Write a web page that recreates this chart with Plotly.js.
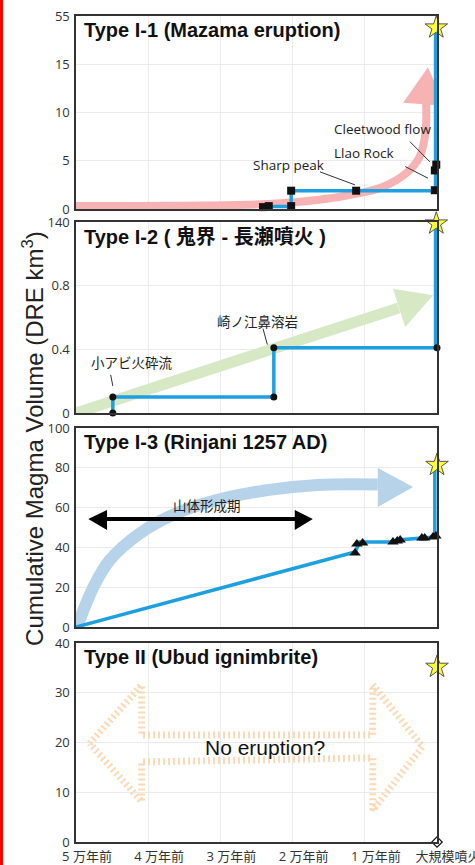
<!DOCTYPE html>
<html><head><meta charset="utf-8">
<script src="https://cdn.plot.ly/plotly-3.0.1.min.js"></script>
<style>html,body{margin:0;padding:0;background:#fff;} #chart{width:475px;height:865px;}</style>
</head><body><div id="chart"></div>
<script>
// ---- shared x axis (thousand years before the large eruption) ----
const xTickVals = [-50, -40, -30, -20, -10, 0];
const xTickText = ['5 万年前', '4 万年前', '3 万年前', '2 万年前', '1 万年前', '大規模噴火'];
const panelTitles = ['Type I-1 (Mazama eruption)', 'Type I-2 ( 鬼界 - 長瀬噴火 )', 'Type I-3 (Rinjani 1257 AD)', 'Type II (Ubud ignimbrite)'];
const yAxisTitle = 'Cumulative Magma Volume (DRE km<sup>3</sup>)';

// ---- Panel 1: Mazama ----
const p1TickVals = [0, 5, 10, 15, 20];
const p1TickText = ['0', '5', '10', '15', '55'];
const p1StepX = [-24.1, -20.2, -20.2, -0.2, -0.2];
const p1StepY = [0.25, 0.25, 1.9, 1.9, 18.8];
const p1EventX = [-24.1, -23.3, -20.2, -20.2, -11.2, -0.3, -0.3, -0.1];
const p1EventY = [0.2, 0.3, 0.3, 1.9, 1.9, 1.95, 4.0, 4.6];
const p1StarX = [-0.1];
const p1StarY = [18.8];
const p1TrendX = [-50, -32.8, -23.5, -16.6, -12.0, -7.5, -4.2, -2.4, -1.6, -1.5];
const p1TrendY = [0.31, 0.36, 0.52, 0.94, 1.46, 2.29, 3.75, 5.42, 7.9, 11.0];
const p1HeadX = [-4.7, -1.25, 1.1];
const p1HeadY = [11.0, 14.7, 10.7];
const p1Labels = ['Cleetwood flow', 'Llao Rock', 'Sharp peak'];
const p1LabelX = [-7.6, -10.1, -20.5];
const p1LabelY = [8.3, 5.83, 4.58];
const p1LeaderX0 = [-3.75, -4.4, -16.2];
const p1LeaderY0 = [6.98, 4.4, 3.85];
const p1LeaderX1 = [-1.0, -1.25, -11.35];
const p1LeaderY1 = [4.9, 3.2, 2.5];

// ---- Panel 2: Kikai ----
const p2TickVals = [0, 0.4, 0.8, 1.2];
const p2TickText = ['0', '0.4', '0.8', '140'];
const p2StepX = [-44.9, -44.9, -22.6, -22.6, -0.2, -0.2];
const p2StepY = [0, 0.1, 0.1, 0.41, 0.41, 1.19];
const p2EventX = [-44.9, -44.9, -22.6, -22.6, 0];
const p2EventY = [0, 0.1, 0.1, 0.41, 0.41];
const p2StarX = [-0.1];
const p2StarY = [1.19];
const p2TrendX = [-50, -5.3];
const p2TrendY = [0, 0.66];
const p2HeadX = [-6.1, -0.55, -4.4];
const p2HeadY = [0.78, 0.74, 0.54];
const p2Labels = ['小アビ火砕流', '崎ノ江鼻溶岩'];
const p2LabelX = [-42.2, -24.9];
const p2LabelY = [0.32, 0.58];
const p2LeaderX0 = [-45.2, -24.1];
const p2LeaderY0 = [0.24, 0.53];
const p2LeaderX1 = [-44.9, -23.5];
const p2LeaderY1 = [0.17, 0.43];

// ---- Panel 3: Rinjani ----
const p3TickVals = [0, 20, 40, 60, 80, 100];
const p3LineX = [-50, -11.35, -10.7, -6.5, -5.5, -1.9, -0.3, -0.3];
const p3LineY = [0, 37.7, 42.7, 42.7, 43.7, 44.7, 45.2, 81.4];
const p3EventX = [-11.35, -11.1, -10.3, -6.1, -5.5, -5.1, -2.1, -1.7, -0.55, -0.15];
const p3EventY = [37.2, 41.7, 42.2, 42.7, 43.2, 43.7, 44.7, 44.7, 45.2, 45.7];
const p3StarX = [0];
const p3StarY = [81.4];
const p3TrendX = [-49.8, -47.6, -45.3, -41.1, -36.0, -30.5, -23.5, -16.6, -8.2];
const p3TrendY = [0.5, 20, 33.7, 47.2, 57.3, 63.8, 68.8, 71.4, 71.6];
const p3HeadX = [-8.2, -3.3, -8.2];
const p3HeadY = [79.9, 70.4, 60.3];
const p3PeriodX = [-46, -19.5];
const p3PeriodY = [54.3, 54.3];
const p3PeriodHeadX = [-48.3, -45.7, -45.7, null, -17.2, -19.7, -19.7];
const p3PeriodHeadY = [54.3, 58.8, 48.7, null, 54.3, 58.8, 48.7];
const p3Label = '山体形成期';
const p3LabelX = -31.9;
const p3LabelY = 61.3;

// ---- Panel 4: Ubud ----
const p4TickVals = [0, 10, 20, 30, 40];
const p4StarX = [0];
const p4StarY = [35.2];
const p4BaseX = [0];
const p4BaseY = [0];
const p4OutlineX = [-48.1, -40.9, -40.9, -8.9, -8.9, -2.0, -8.9, -8.9, -40.9, -40.9, -48.1];
const p4OutlineY = [19.8, 31.6, 21.5, 21.5, 31.6, 19.2, 6.4, 16.9, 16.1, 8.1, 19.8];
const p4Label = 'No eruption?';
const p4LabelX = -23.8;
const p4LabelY = 18.9;

// ---------- styling ----------
const BLUE = '#1e9fe0';
const STAR = {symbol: 'star', size: 17, color: '#ffff2e', line: {color: '#555', width: 1}};
const tickFont = {family: "'Open Sans', 'Noto Sans CJK JP', sans-serif", size: 13, color: '#333'};
const labelFont = {family: "'Open Sans', 'Noto Sans CJK JP', sans-serif", size: 13.5, color: '#222'};
const jpFont = {family: "'Noto Sans CJK JP', sans-serif", size: 13.5, color: '#222'};

const traces = [];
function ax(i) { return i === 1 ? '' : String(i); }
function add(i, t) { t.xaxis = 'x' + ax(i); t.yaxis = 'y' + ax(i); t.showlegend = false; t.hoverinfo = 'skip'; traces.push(t); }

// Panel 1
add(1, {x: p1TrendX, y: p1TrendY, mode: 'lines', line: {color: '#f7b3b3', width: 8, shape: 'spline'}});
add(1, {x: p1HeadX, y: p1HeadY, mode: 'lines', fill: 'toself', fillcolor: '#f7b3b3', line: {width: 0}});
add(1, {x: p1StepX, y: p1StepY, mode: 'lines', line: {color: BLUE, width: 3.5}});
add(1, {x: p1EventX, y: p1EventY, mode: 'markers', marker: {symbol: 'square', size: 8, color: '#111'}, cliponaxis: false});
add(1, {x: p1StarX, y: p1StarY, mode: 'markers', marker: STAR, cliponaxis: false});

// Panel 2
add(2, {x: p2TrendX, y: p2TrendY, mode: 'lines', line: {color: '#d6e8c4', width: 11}});
add(2, {x: p2HeadX, y: p2HeadY, mode: 'lines', fill: 'toself', fillcolor: '#d6e8c4', line: {width: 0}});
add(2, {x: p2StepX, y: p2StepY, mode: 'lines', line: {color: BLUE, width: 3.5}});
add(2, {x: p2EventX, y: p2EventY, mode: 'markers', marker: {symbol: 'circle', size: 7, color: '#111'}, cliponaxis: false});
add(2, {x: p2StarX, y: p2StarY, mode: 'markers', marker: STAR, cliponaxis: false});

// Panel 3
add(3, {x: p3TrendX, y: p3TrendY, mode: 'lines', line: {color: '#b7d3ea', width: 12, shape: 'spline'}});
add(3, {x: p3HeadX, y: p3HeadY, mode: 'lines', fill: 'toself', fillcolor: '#b7d3ea', line: {width: 0}});
add(3, {x: p3PeriodX, y: p3PeriodY, mode: 'lines', line: {color: '#000', width: 4}});
add(3, {x: p3PeriodHeadX, y: p3PeriodHeadY, mode: 'lines', fill: 'toself', fillcolor: '#000', line: {width: 0}});
add(3, {x: p3LineX, y: p3LineY, mode: 'lines', line: {color: BLUE, width: 3.5}});
add(3, {x: p3EventX, y: p3EventY, mode: 'markers', marker: {symbol: 'triangle-up', size: 10, color: '#111'}, cliponaxis: false});
add(3, {x: p3StarX, y: p3StarY, mode: 'markers', marker: STAR, cliponaxis: false});

// Panel 4
add(4, {x: p4OutlineX, y: p4OutlineY, mode: 'lines', line: {color: '#fbd9b5', width: 7, dash: '2px,3px'}});
add(4, {x: p4StarX, y: p4StarY, mode: 'markers', marker: STAR, cliponaxis: false});
add(4, {x: p4BaseX, y: p4BaseY, mode: 'markers', marker: {symbol: 'diamond-open', size: 8, color: '#111', line: {width: 1.2}}, cliponaxis: false});

// ---------- layout ----------
const domains = [[0.7663, 1.0], [0.5194, 0.7506], [0.2603, 0.5012], [0, 0.2409]];
const yTicks = [[p1TickVals, p1TickText], [p2TickVals, p2TickText], [p3TickVals, p3TickVals.map(String)], [p4TickVals, p4TickVals.map(String)]];
const yRanges = [[0, 20], [0, 1.2], [0, 100], [0, 40]];

const layout = {
  width: 475, height: 865,
  margin: {l: 76, r: 38, t: 16, b: 23},
  paper_bgcolor: '#fff', plot_bgcolor: '#fff',
  showlegend: false,
  annotations: [], shapes: []
};

for (let i = 1; i <= 4; i++) {
  const s = ax(i);
  layout['xaxis' + s] = {
    domain: [0, 1], range: [-50, 0], anchor: 'y' + s,
    tickmode: 'array', tickvals: xTickVals, ticktext: xTickText,
    showticklabels: i === 4, ticks: '', tickfont: tickFont,
    ticklabelshift: 11, ticklabelstandoff: 2, ticklabeloverflow: 'allow',
    showgrid: true, gridcolor: '#ebebeb', gridwidth: 1,
    showline: true, linecolor: '#333', linewidth: 1.6, mirror: true,
    zeroline: false, fixedrange: true
  };
  layout['yaxis' + s] = {
    domain: domains[i - 1], range: yRanges[i - 1], anchor: 'x' + s,
    tickmode: 'array', tickvals: yTicks[i - 1][0], ticktext: yTicks[i - 1][1],
    ticks: '', tickfont: tickFont, ticklabelstandoff: 2, ticklabeloverflow: 'allow',
    showgrid: true, gridcolor: '#ebebeb', gridwidth: 1,
    showline: true, linecolor: '#333', linewidth: 1.6, mirror: true,
    zeroline: false, fixedrange: true
  };
  layout.annotations.push({
    text: panelTitles[i - 1], xref: 'x' + s + ' domain', yref: 'y' + s + ' domain',
    x: 0.018, y: 1, xanchor: 'left', yanchor: 'top', yshift: -1, showarrow: false,
    font: {family: "'Liberation Sans', 'Noto Sans CJK JP', Arial, sans-serif", size: 20, color: '#111', weight: 'bold'}
  });
}

// panel labels
p1Labels.forEach((t, k) => {
  layout.annotations.push({text: t, x: p1LabelX[k], y: p1LabelY[k], xref: 'x', yref: 'y', showarrow: false, font: labelFont});
  layout.shapes.push({type: 'line', xref: 'x', yref: 'y', x0: p1LeaderX0[k], y0: p1LeaderY0[k], x1: p1LeaderX1[k], y1: p1LeaderY1[k], line: {color: '#333', width: 1}});
});
p2Labels.forEach((t, k) => {
  layout.annotations.push({text: t, x: p2LabelX[k], y: p2LabelY[k], xref: 'x2', yref: 'y2', showarrow: false, font: jpFont});
  layout.shapes.push({type: 'line', xref: 'x2', yref: 'y2', x0: p2LeaderX0[k], y0: p2LeaderY0[k], x1: p2LeaderX1[k], y1: p2LeaderY1[k], line: {color: '#333', width: 1}});
});
layout.annotations.push({text: p3Label, x: p3LabelX, y: p3LabelY, xref: 'x3', yref: 'y3', showarrow: false, font: jpFont});
layout.annotations.push({text: p4Label, x: p4LabelX, y: p4LabelY, xref: 'x4', yref: 'y4', showarrow: false,
  font: {family: "'Liberation Sans', Arial, sans-serif", size: 21, color: '#111'}});

// y-axis title
layout.annotations.push({text: yAxisTitle, xref: 'paper', yref: 'paper', x: -0.119, y: 0.488, textangle: -90,
  xanchor: 'center', yanchor: 'middle',
  showarrow: false, font: {family: "'Liberation Sans', Arial, sans-serif", size: 24, color: '#222'}});

// red left border of the figure
layout.shapes.push({type: 'line', xref: 'paper', yref: 'paper', x0: -0.2064, x1: -0.2064, y0: -0.04, y1: 1.04, line: {color: '#ff0000', width: 3}});

Plotly.newPlot('chart', traces, layout, {displayModeBar: false, staticPlot: true});
</script>
</body></html>
